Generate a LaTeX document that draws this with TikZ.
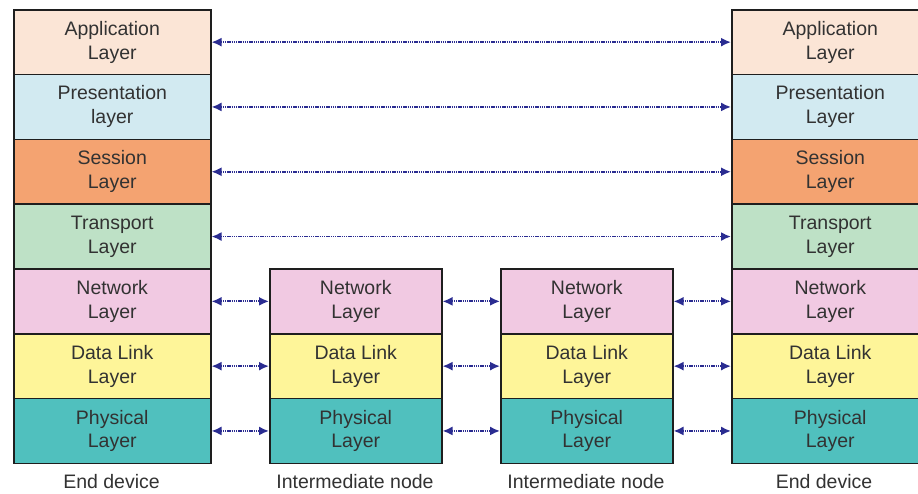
\documentclass[tikz,border=0pt]{standalone}
\usepackage{fontspec}
\setmainfont{Liberation Sans}
\usetikzlibrary{arrows.meta}
\definecolor{appc}{RGB}{251,229,214}
\definecolor{presc}{RGB}{210,234,241}
\definecolor{sessc}{RGB}{244,163,113}
\definecolor{tranc}{RGB}{190,225,198}
\definecolor{netc}{RGB}{241,201,226}
\definecolor{dlc}{RGB}{254,245,153}
\definecolor{phyc}{RGB}{80,192,190}
\definecolor{boxline}{RGB}{30,30,30}
\definecolor{txt}{RGB}{50,50,50}
\definecolor{navy}{RGB}{42,44,145}
\begin{document}
\begin{tikzpicture}[x=1pt,y=-1pt,
  layerbox/.style={draw=boxline, line width=1.5pt, minimum width=197pt, minimum height=64.8pt,
    inner sep=0pt, align=center, font=\fontsize{19.5}{24}\selectfont, text=txt, anchor=north west},
  midbox/.style={layerbox, minimum width=172pt},
  link/.style={navy, line width=1.8pt, dash pattern=on 1.4pt off 0.8pt,
    {Latex[length=10pt,width=9pt]}-{Latex[length=10pt,width=9pt]}},
  caption/.style={font=\fontsize{19.5}{24}\selectfont, text=txt}]
\useasboundingbox (0,0) rectangle (918,493);
\clip (0,0) rectangle (918,493);
\fill[white] (0,0) rectangle (918,493);
% left end device
\node[layerbox, fill=appc]  (L1) at (13,9)     {Application\\Layer};
\node[layerbox, fill=presc] (L2) at (13,73.8)  {Presentation\\layer};
\node[layerbox, fill=sessc] (L3) at (13,138.6) {Session\\Layer};
\node[layerbox, fill=tranc] (L4) at (13,203.4) {Transport\\Layer};
\node[layerbox, fill=netc]  (L5) at (13,268.2) {Network\\Layer};
\node[layerbox, fill=dlc]   (L6) at (13,333)   {Data Link\\Layer};
\node[layerbox, fill=phyc]  (L7) at (13,397.8) {Physical\\Layer};
% right end device
\node[layerbox, fill=appc]  (R1) at (731,9)     {Application\\Layer};
\node[layerbox, fill=presc] (R2) at (731,73.8)  {Presentation\\Layer};
\node[layerbox, fill=sessc] (R3) at (731,138.6) {Session\\Layer};
\node[layerbox, fill=tranc] (R4) at (731,203.4) {Transport\\Layer};
\node[layerbox, fill=netc]  (R5) at (731,268.2) {Network\\Layer};
\node[layerbox, fill=dlc]   (R6) at (731,333)   {Data Link\\Layer};
\node[layerbox, fill=phyc]  (R7) at (731,397.8) {Physical\\Layer};
% intermediate node 1
\node[midbox, fill=netc] (M5) at (269,268.2) {Network\\Layer};
\node[midbox, fill=dlc]  (M6) at (269,333)   {Data Link\\Layer};
\node[midbox, fill=phyc] (M7) at (269,397.8) {Physical\\Layer};
% intermediate node 2
\node[midbox, fill=netc] (N5) at (500,268.2) {Network\\Layer};
\node[midbox, fill=dlc]  (N6) at (500,333)   {Data Link\\Layer};
\node[midbox, fill=phyc] (N7) at (500,397.8) {Physical\\Layer};
% links
\foreach \i in {1,2,3,4} { \draw[link] (L\i.east) -- (R\i.west); }
\foreach \i in {5,6,7} {
  \draw[link] (L\i.east) -- (M\i.west);
  \draw[link] (M\i.east) -- (N\i.west);
  \draw[link] (N\i.east) -- (R\i.west);
}
% captions
\node[caption] (c1) at (111.5,482) {End device};
\node[caption] (c2) at (355,482) {Intermediate node};
\node[caption] (c3) at (586,482) {Intermediate node};
\node[caption] (c4) at (824,482) {End device};
\end{tikzpicture}
\end{document}
